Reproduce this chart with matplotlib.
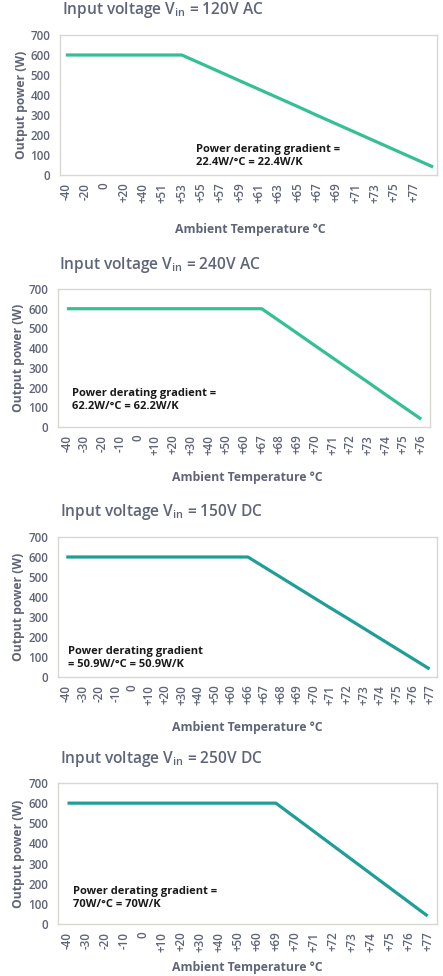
import matplotlib
matplotlib.use("Agg")
import matplotlib.pyplot as plt

plt.rcParams['font.family'] = ['Open Sans', 'DejaVu Sans']
plt.rcParams['mathtext.fontset'] = 'custom'
plt.rcParams['mathtext.rm'] = 'Open Sans:semibold'
plt.rcParams['mathtext.it'] = 'Open Sans:semibold'

# --- data -----------------------------------------------------------------
temps_120ac = ['-40', '-20', '0', '+20', '+40', '+51', '+53', '+55', '+57', '+59',
               '+61', '+63', '+65', '+67', '+69', '+71', '+73', '+75', '+77', '']
power_120ac = [600, 600, 600, 600, 600, 600, 600, 557, 514, 471,
               428, 385, 342, 298, 255, 212, 169, 126, 83, 40]

temps_240ac = ['-40', '-30', '-20', '-10', '0', '+10', '+20', '+30', '+40', '+50', '+60',
               '+67', '+68', '+69', '+70', '+71', '+72', '+73', '+74', '+75', '+76']
power_240ac = [600, 600, 600, 600, 600, 600, 600, 600, 600, 600, 600,
               600, 538, 476, 413, 351, 289, 227, 164, 102, 40]

temps_150dc = ['-40', '-30', '-20', '-10', '0', '+10', '+20', '+30', '+40', '+50', '+60',
               '+66', '+67', '+68', '+69', '+70', '+71', '+72', '+73', '+74', '+75', '+76', '+77']
power_150dc = [600, 600, 600, 600, 600, 600, 600, 600, 600, 600, 600,
               600, 549, 498, 447, 396, 345, 295, 244, 193, 142, 91, 40]

temps_250dc = ['-40', '-30', '-20', '-10', '0', '+10', '+20', '+30', '+40', '+50', '+60',
               '+69', '+70', '+71', '+72', '+73', '+74', '+75', '+76', '+77']
power_250dc = [600, 600, 600, 600, 600, 600, 600, 600, 600, 600, 600,
               600, 530, 460, 390, 320, 250, 180, 110, 40]

titles = ['120V AC', '240V AC', '150V DC', '250V DC']
notes = ['Power derating gradient =\n22.4W/°C = 22.4W/K',
         'Power derating gradient =\n62.2W/°C = 62.2W/K',
         'Power derating gradient\n= 50.9W/°C = 50.9W/K',
         'Power derating gradient =\n70W/°C = 70W/K']

TXT = '#5f6478'
GREEN = '#34bf95'
TEAL = '#1f9e98'
FRAME = '#d8d8d2'

W, H = 443, 976
fig = plt.figure(figsize=(W / 100, H / 100), dpi=100)


def px_axes(l, t, r, b):
    return fig.add_axes([l / W, 1 - b / H, (r - l) / W, (b - t) / H])


# pixel boxes, x range, note position, title pos, xlabel pos
panels = [
    dict(box=(60, 35, 437, 175), xlim=(-0.3, 19.2), note=(0.36, 0.136),
         title=(62, 10), xlab=(250, 230), color=GREEN),
    dict(box=(58, 289, 430, 427), xlim=(-0.5, 20.5), note=(0.038, 0.195),
         title=(59, 265), xlab=(247, 477), color=GREEN),
    dict(box=(58, 537, 437, 677), xlim=(-0.5, 22.45), note=(0.026, 0.136),
         title=(60, 512), xlab=(247, 728), color=TEAL),
    dict(box=(58, 783, 437, 924), xlim=(-0.5, 19.5), note=(0.04, 0.184),
         title=(60, 759), xlab=(247, 967), color=TEAL),
]
series = [(temps_120ac, power_120ac), (temps_240ac, power_240ac),
          (temps_150dc, power_150dc), (temps_250dc, power_250dc)]

for p, (cats, vals), title, note in zip(panels, series, titles, notes):
    ax = px_axes(*p['box'])
    x = list(range(len(cats)))
    ax.plot(x, vals, color=p['color'], lw=2.3, solid_capstyle='butt')
    ax.set_xlim(*p['xlim'])
    ax.set_ylim(0, 700)
    ax.set_yticks(range(0, 701, 100))
    ax.set_xticks(x)
    ax.set_xticklabels(cats, rotation=90)
    ax.tick_params(length=0, colors=TXT, labelsize=8.4)
    ax.tick_params(axis='y', pad=7)
    ax.tick_params(axis='x', pad=5.5)
    for lab in ax.get_xticklabels() + ax.get_yticklabels():
        lab.set_fontweight('semibold')
    for s in ax.spines.values():
        s.set_color(FRAME)
        s.set_linewidth(1.0)
    ax.set_ylabel('Output power (W)', color=TXT, fontsize=8.7, fontweight='bold', labelpad=2)
    ax.text(p['note'][0], p['note'][1], note, transform=ax.transAxes, fontsize=8,
            fontweight='bold', color='#1a1a1a', va='center', ha='left', linespacing=1.25)
    tx, ty = p['title']
    fig.text(tx / W, 1 - ty / H, 'Input voltage V$_{\\mathrm{in}}$ = ' + title,
             fontsize=11.2, fontweight='semibold', color=TXT, va='center', ha='left')
    lx, ly = p['xlab']
    fig.text(lx / W, 1 - ly / H, 'Ambient Temperature °C', fontsize=8.8,
             fontweight='bold', color=TXT, va='center', ha='center')

fig.savefig('out.png', dpi=100)
